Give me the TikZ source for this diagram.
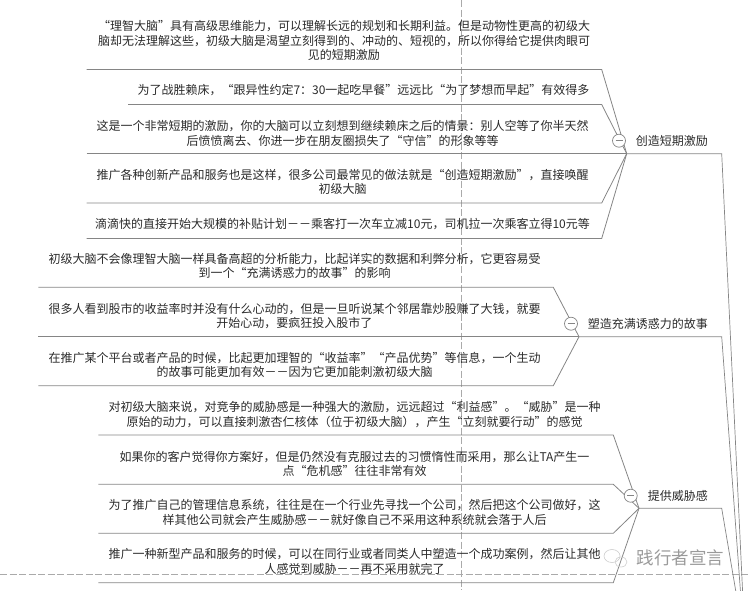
\documentclass[tikz,border=0pt]{standalone}
\usepackage{fontspec}
\setmainfont{Noto Sans CJK SC}
\usetikzlibrary{calc}
\definecolor{lineGray}{HTML}{858585}
\definecolor{textDark}{HTML}{2A2A2A}
\definecolor{markGray}{HTML}{9A9A9A}
\tikzset{
    noteText/.style={align=center, inner sep=0pt, text=textDark, font=\fontsize{12}{14.6}\selectfont},
    topicText/.style={anchor=east, inner sep=0pt, text=textDark, font=\fontsize{12}{14.6}\selectfont},
    noteLine/.style={draw=lineGray, line width=0.8pt},
    mainLine/.style={draw=lineGray, line width=0.7pt},
    pageLine/.style={draw=lineGray!70, line width=0.5pt, dash pattern=on 7pt off 2.5pt},
    foldMark/.style={circle, draw=lineGray, fill=white, line width=0.7pt, inner sep=0pt, minimum size=13pt},
    markText/.style={anchor=west, inner sep=0pt, text=markGray, font=\fontsize{17.5}{20}\selectfont},
}
% one note with its underline, bent up to the junction of its topic
\newcommand{\drawNote}[7]{
    \coordinate (#1L) at (#2, #4);
    \coordinate (#1R) at (#3, #4);
    \draw[noteLine] (#1L) -- (#1R) -- (#6);
    \node[noteText] (#1) at (#5) {#7};
}
\newcommand{\drawFold}[2]{
    \node[foldMark] (#1) at (#2) {};
    \draw[draw=lineGray, line width=1.2pt] ($(#1)+(-3.5,0)$) -- ($(#1)+(3.5,0)$);
}
\begin{document}
\begin{tikzpicture}[x=1pt, y=-1pt]
    \useasboundingbox (0,0) rectangle (750,590);

    % page break lines
    \coordinate (pageTop) at (461.7,0);
    \coordinate (pageBot) at (461.7,590);
    \coordinate (pageLeft) at (0,574);
    \coordinate (pageRight) at (750,574);
    \draw[pageLine] (pageTop) -- (pageBot);
    \draw[pageLine] (pageLeft) -- (pageRight);

    % junctions of the three topics
    \coordinate (joinA) at (626.7,153.7);
    \coordinate (joinB) at (579,336.7);
    \coordinate (joinC) at (639,508.3);
    \coordinate (bendA) at (721.7,153.7);
    \coordinate (bendB) at (721.7,336.7);
    \coordinate (bendC) at (721.7,508.3);
    \coordinate (rootA) at (743,600);
    \coordinate (rootB) at (741.1,600);
    \coordinate (rootC) at (737.3,600);
    \draw[mainLine] (joinA) -- (bendA) -- (rootA);
    \draw[mainLine] (joinB) -- (bendB) -- (rootB);
    \draw[mainLine] (joinC) -- (bendC) -- (rootC);

    \drawNote{noteAa}{86.5}{601.7}{69.5}{344,40.5}{joinA}{“理智大脑”具有高级思维能力，可以理解长远的规划和长期利益。但是动物性更高的初级大\\脑却无法理解这些，初级大脑是渴望立刻得到的、冲动的、短视的，所以你得给它提供肉眼可\\见的短期激励}
    \drawNote{noteAb}{128}{601.7}{104.5}{363.5,90}{joinA}{为了战胜赖床，“跟异性约定7：30一起吃早餐”远远比“为了梦想而早起”有效得多}
    \drawNote{noteAc}{86.5}{601.7}{153.7}{342.5,133.5}{joinA}{这是一个非常短期的激励，你的大脑可以立刻想到继续赖床之后的情景：别人空等了你半天然\\后愤愤离去、你进一步在朋友圈损失了“守信”的形象等等}
    \drawNote{noteAd}{86.5}{601.7}{203}{342.5,182}{joinA}{推广各种创新产品和服务也是这样，很多公司最常见的做法就是“创造短期激励”，直接唤醒\\初级大脑}
    \drawNote{noteAe}{86.5}{601.7}{238.5}{342.5,224}{joinA}{滴滴快的直接开始大规模的补贴计划－－乘客打一次车立减10元，司机拉一次乘客立得10元等}

    \drawNote{noteBa}{38.3}{553.3}{287.3}{294.5,266}{joinB}{初级大脑不会像理智大脑一样具备高超的分析能力，比起详实的数据和利弊分析，它更容易受\\到一个“充满诱惑力的故事”的影响}
    \drawNote{noteBb}{38.3}{553.3}{336.7}{294.5,316}{joinB}{很多人看到股市的收益率时并没有什么心动的，但是一旦听说某个邻居靠炒股赚了大钱，就要\\开始心动，要疯狂投入股市了}
    \drawNote{noteBc}{38.3}{553.3}{385.7}{294.5,365}{joinB}{在推广某个平台或者产品的时候，比起更加理智的“收益率”“产品优势”等信息，一个生动\\的故事可能更加有效－－因为它更加能刺激初级大脑}

    \drawNote{noteCa}{98.3}{613.3}{435}{354.5,414.5}{joinC}{对初级大脑来说，对竞争的威胁感是一种强大的激励，远远超过“利益感”。“威胁”是一种\\原始的动力，可以直接刺激杏仁核体（位于初级大脑），产生“立刻就要行动”的感觉}
    \drawNote{noteCb}{98.3}{613.3}{484.3}{354.5,464}{joinC}{如果你的客户觉得你方案好，但是仍然没有克服过去的习惯惰性而采用，那么让TA产生一\\点“危机感”往往非常有效}
    \drawNote{noteCc}{98.3}{613.3}{533.3}{354.5,512.5}{joinC}{为了推广自己的管理信息系统，往往是在一个行业先寻找一个公司，然后把这个公司做好，这\\样其他公司就会产生威胁感－－就好像自己不采用这种系统就会落于人后}
    \drawNote{noteCd}{98.3}{613.3}{582.7}{354.5,561.5}{joinC}{推广一种新型产品和服务的时候，可以在同行业或者同类人中塑造一个成功案例，然后让其他\\人感觉到威胁－－再不采用就完了}

    % topics
    \drawFold{foldA}{619,140.7}
    \drawFold{foldB}{571,323.7}
    \drawFold{foldC}{630.7,495.7}
    \node[topicText] (topicA) at (708,141) {创造短期激励};
    \node[topicText] (topicB) at (708,324) {塑造充满诱惑力的故事};
    \node[topicText] (topicC) at (708,496) {提供威胁感};

    % watermark
    \draw[markGray!50, line width=0.6pt] (612,556) ellipse (8 and 6.5);
    \draw[markGray!50, line width=0.6pt] (621,562) ellipse (6 and 5);
    \node[markText] (markName) at (636.7,557.5) {践行者宣言};
\end{tikzpicture}
\end{document}
